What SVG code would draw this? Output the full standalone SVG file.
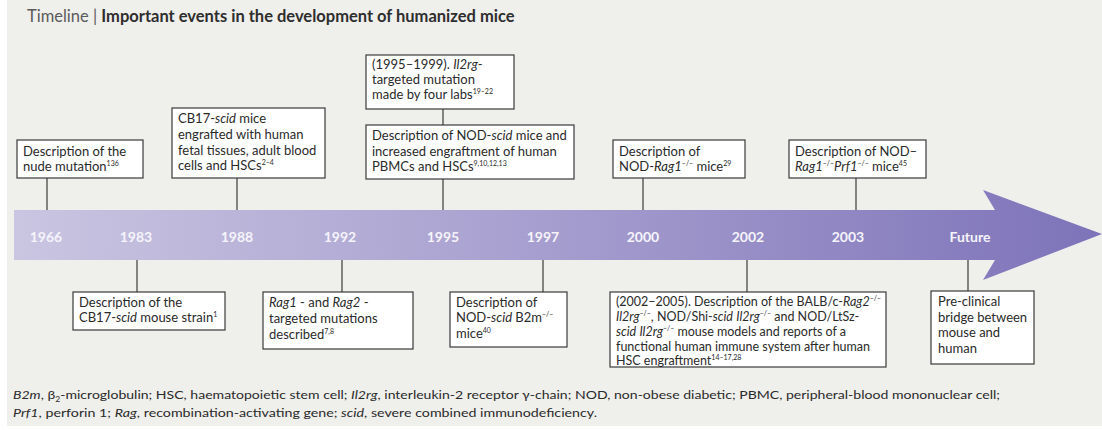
<svg xmlns="http://www.w3.org/2000/svg" width="1102" height="430" viewBox="0 0 1102 430">
<defs>
<linearGradient id="band" x1="14" y1="0" x2="1102" y2="0" gradientUnits="userSpaceOnUse">
<stop offset="0" stop-color="#cac5e1"/>
<stop offset="0.45" stop-color="#a9a1d0"/>
<stop offset="1" stop-color="#7d73b9"/>
</linearGradient>
<style>
.box{fill:#fff;stroke:#3a3a3a;stroke-width:1.2}
.conn line{stroke:#3a3a3a;stroke-width:1.2}
.t{font-family:Lato,"Open Sans",sans-serif;font-size:13px;fill:#2a2a2a}
.s{font-size:12.5px}
.i{font-style:italic}
.sup{font-size:7px}
.yr{font-family:Lato,"Open Sans",sans-serif;font-size:14px;font-weight:bold;fill:#f6f4fb;text-anchor:middle}
.fn{font-family:Lato,"Open Sans",sans-serif;font-size:11.5px;fill:#2a2a2a}
</style>
</defs>
<rect x="0" y="0" width="1102" height="430" fill="#ffffff"/>
<rect x="7" y="0" width="1095" height="426" fill="#efefeb"/>
<text x="27" y="22" font-family="Lato,'Open Sans',sans-serif" font-size="16.5" fill="#5a5a5a"><tspan>Timeline | </tspan><tspan font-weight="bold" fill="#2e2e2e">Important events in the development of humanized mice</tspan></text>

<g id="timeline">
<path d="M14,210 L995,210 L983,190 L1102,234 L983,280 L995,260 L14,260 Z" fill="url(#band)"/>
<text class="yr" x="46" y="242">1966</text>
<text class="yr" x="136" y="242">1983</text>
<text class="yr" x="237" y="242">1988</text>
<text class="yr" x="340" y="242">1992</text>
<text class="yr" x="443" y="242">1995</text>
<text class="yr" x="543" y="242">1997</text>
<text class="yr" x="643" y="242">2000</text>
<text class="yr" x="748" y="242">2002</text>
<text class="yr" x="848" y="242">2003</text>
<text class="yr" x="970" y="242">Future</text>
</g>

<g id="connectors" class="conn">
<line x1="47" y1="178" x2="47" y2="210"/>
<line x1="237" y1="178" x2="237" y2="210"/>
<line x1="443" y1="109" x2="443" y2="125"/>
<line x1="443" y1="179" x2="443" y2="210"/>
<line x1="643" y1="178" x2="643" y2="210"/>
<line x1="856" y1="178" x2="856" y2="210"/>
<line x1="137" y1="260" x2="137" y2="292"/>
<line x1="342" y1="260" x2="342" y2="292"/>
<line x1="543" y1="260" x2="543" y2="292"/>
<line x1="747" y1="260" x2="747" y2="292"/>
<line x1="968" y1="260" x2="968" y2="291"/>
</g>

<g id="n1966">
<rect class="box" x="17" y="140" width="126" height="38"/>
<text class="t" x="23" y="156">Description of the</text>
<text class="t" x="23" y="171">nude mutation<tspan class="sup" dy="-5">136</tspan></text>
</g>

<g id="n1988">
<rect class="box" x="172" y="108" width="153" height="70"/>
<text class="t" x="178" y="123">CB17-<tspan class="i">scid</tspan> mice</text>
<text class="t" x="178" y="139">engrafted with human</text>
<text class="t" x="178" y="155">fetal tissues, adult blood</text>
<text class="t" x="178" y="170">cells and HSCs<tspan class="sup" dy="-5">2–4</tspan></text>
</g>

<g id="n1995a">
<rect class="box" x="366" y="55" width="148" height="54"/>
<text class="t" x="372" y="69">(1995–1999). <tspan class="i">Il2rg</tspan>-</text>
<text class="t" x="372" y="84">targeted mutation</text>
<text class="t" x="372" y="99">made by four labs<tspan class="sup" dy="-5">19–22</tspan></text>
</g>

<g id="n1995b">
<rect class="box" x="366" y="125" width="208" height="54"/>
<text class="t" x="372" y="140">Description of NOD-<tspan class="i">scid</tspan> mice and</text>
<text class="t" x="372" y="156">increased engraftment of human</text>
<text class="t" x="372" y="171">PBMCs and HSCs<tspan class="sup" dy="-5">9,10,12,13</tspan></text>
</g>

<g id="n2000">
<rect class="box" x="613" y="140" width="132" height="38"/>
<text class="t" x="619" y="156">Description of</text>
<text class="t" x="619" y="171">NOD-<tspan class="i">Rag1</tspan><tspan class="sup" dy="-5">–/–</tspan><tspan dy="5"> mice</tspan><tspan class="sup" dy="-5">29</tspan></text>
</g>

<g id="n2003">
<rect class="box" x="789" y="140" width="137" height="38"/>
<text class="t" x="795" y="156">Description of NOD–</text>
<text class="t" x="795" y="171"><tspan class="i">Rag1</tspan><tspan class="sup" dy="-5">–/–</tspan><tspan class="i" dy="5">Prf1</tspan><tspan class="sup" dy="-5">–/–</tspan><tspan dy="5"> mice</tspan><tspan class="sup" dy="-5">45</tspan></text>
</g>

<g id="n1983">
<rect class="box" x="73" y="292" width="152" height="38"/>
<text class="t" x="79" y="307">Description of the</text>
<text class="t" x="79" y="322">CB17-<tspan class="i">scid</tspan> mouse strain<tspan class="sup" dy="-5">1</tspan></text>
</g>

<g id="n1992">
<rect class="box" x="263" y="292" width="150" height="57"/>
<text class="t" x="269" y="307"><tspan class="i">Rag1</tspan> - and <tspan class="i">Rag2</tspan> -</text>
<text class="t" x="269" y="323">targeted mutations</text>
<text class="t" x="269" y="339">described<tspan class="sup" dy="-5">7,8</tspan></text>
</g>

<g id="n1997">
<rect class="box" x="450" y="292" width="117" height="55"/>
<text class="t" x="456" y="307">Description of</text>
<text class="t" x="456" y="322">NOD-<tspan class="i">scid</tspan> B2m<tspan class="sup" dy="-5">–/–</tspan></text>
<text class="t" x="456" y="338">mice<tspan class="sup" dy="-5">40</tspan></text>
</g>

<g id="n2002">
<rect class="box" x="610" y="292" width="276" height="75"/>
<text class="t s" x="616" y="306">(2002–2005). Description of the BALB/c-<tspan class="i">Rag2</tspan><tspan class="sup" dy="-5">–/–</tspan></text>
<text class="t s" x="616" y="321"><tspan class="i">Il2rg</tspan><tspan class="sup" dy="-5">–/–</tspan><tspan dy="5">, NOD/Shi-</tspan><tspan class="i">scid</tspan> <tspan class="i">Il2rg</tspan><tspan class="sup" dy="-5">–/–</tspan><tspan dy="5"> and NOD/LtSz-</tspan></text>
<text class="t s" x="616" y="336"><tspan class="i">scid</tspan> <tspan class="i">Il2rg</tspan><tspan class="sup" dy="-5">–/–</tspan><tspan dy="5"> mouse models and reports of a</tspan></text>
<text class="t s" x="616" y="351">functional human immune system after human</text>
<text class="t s" x="616" y="365">HSC engraftment<tspan class="sup" dy="-5">14–17,28</tspan></text>
</g>

<g id="nFuture">
<rect class="box" x="931" y="291" width="103" height="73"/>
<text class="t" x="938" y="306">Pre-clinical</text>
<text class="t" x="938" y="322">bridge between</text>
<text class="t" x="938" y="337">mouse and</text>
<text class="t" x="938" y="353">human</text>
</g>

<g id="footnote">
<text class="fn" x="13" y="399" textLength="987" lengthAdjust="spacingAndGlyphs"><tspan class="i">B2m</tspan>, β<tspan font-size="7" dy="3">2</tspan><tspan dy="-3">-microglobulin; HSC, haematopoietic stem cell; </tspan><tspan class="i">Il2rg</tspan>, interleukin-2 receptor γ-chain; NOD, non-obese diabetic; PBMC, peripheral-blood mononuclear cell;</text>
<text class="fn" x="13" y="417" textLength="584" lengthAdjust="spacingAndGlyphs"><tspan class="i">Prf1</tspan>, perforin 1; <tspan class="i">Rag</tspan>, recombination-activating gene; <tspan class="i">scid</tspan>, severe combined immunodeficiency.</text>
</g>
</svg>
